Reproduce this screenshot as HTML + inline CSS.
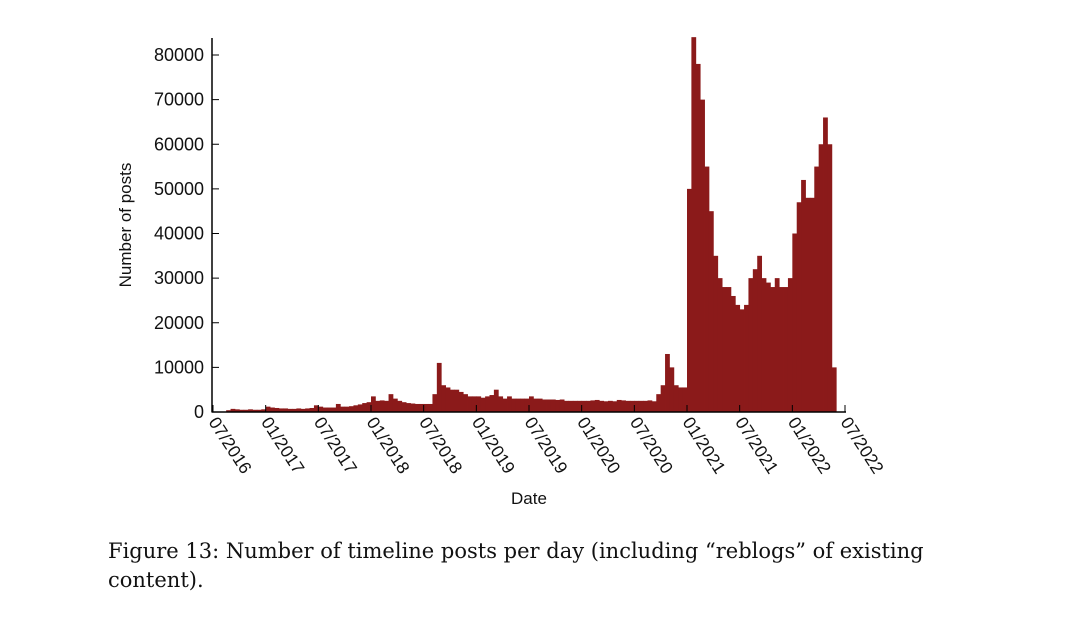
<!DOCTYPE html>
<html><head><meta charset="utf-8"><style>
body{margin:0;background:#fff;}
svg{display:block;}
text{font-family:"Liberation Sans",sans-serif;fill:#111;}
.cap{font-family:"DejaVu Serif","Liberation Serif",serif;font-size:21px;}
</style></head><body>
<svg id="chart" width="1090" height="640" viewBox="0 0 1090 640">
<g id="bars"></g>
<g id="axes"></g>
<text x="529" y="504" text-anchor="middle" font-size="17">Date</text>
<text transform="translate(131,225) rotate(-90)" text-anchor="middle" font-size="17">Number of posts</text>
<text class="cap" x="108" y="558">Figure 13: Number of timeline posts per day (including “reblogs” of existing</text>
<text class="cap" x="108" y="587">content).</text>
</svg>
<script>
const values = [
0,0,0,400,700,600,500,500,600,500,500,600,
1200,1000,900,800,800,700,700,800,700,800,900,1500,
1200,1000,1000,1000,1800,1200,1200,1300,1500,1700,2000,2200,
3500,2500,2600,2500,4000,3000,2500,2200,2000,1900,1800,1800,
1800,1800,4000,11000,6000,5500,5000,5000,4500,4000,3500,3500,
3500,3200,3500,3800,5000,3500,3000,3500,3000,3000,3000,3000,
3500,3000,3000,2800,2800,2800,2700,2800,2500,2500,2500,2500,
2500,2500,2600,2700,2500,2400,2500,2400,2700,2600,2500,2500,
2500,2500,2500,2600,2400,4000,6000,13000,10000,6000,5500,5500,
50000,84000,78000,70000,55000,45000,35000,30000,28000,28000,26000,24000,
23000,24000,30000,32000,35000,30000,29000,28000,30000,28000,28000,30000,
40000,47000,52000,48000,48000,55000,60000,66000,60000,10000,0,0
];
const xTickLabels = ["07/2016","01/2017","07/2017","01/2018","07/2018","01/2019","07/2019","01/2020","07/2020","01/2021","07/2021","01/2022","07/2022"];
const yTicks = [0,10000,20000,30000,40000,50000,60000,70000,80000];

const NS="http://www.w3.org/2000/svg";
const X0=213, X1=845, Y0=412, YTOP=55, YMAXV=80000;
const n=values.length;
const xScale=i=>X0+i*(X1-X0)/n;
const yScale=v=>Y0-(v/YMAXV)*(Y0-YTOP);
function mk(tag,attrs){const e=document.createElementNS(NS,tag);for(const k in attrs)e.setAttribute(k,attrs[k]);return e;}
const bars=document.getElementById('bars');
values.forEach((v,i)=>{
  if(v<=0)return;
  const r=mk('rect',{x:xScale(i),y:yScale(v),width:(X1-X0)/n+0.4,height:Y0-yScale(v),fill:'#8b1a1a'});
  
  
  bars.appendChild(r);
});
const axes=document.getElementById('axes');
const yAxis=mk('line',{x1:212,y1:38,x2:212,y2:412.5,stroke:'#000','stroke-width':1.5});


axes.appendChild(yAxis);
const xAxis=mk('line',{x1:212,y1:412,x2:846,y2:412,stroke:'#000','stroke-width':1.5});


axes.appendChild(xAxis);
yTicks.forEach(t=>{
  const y=yScale(t);
  axes.appendChild(mk('line',{x1:212,y1:y,x2:219,y2:y,stroke:'#000','stroke-width':1}));
  const tx=mk('text',{x:204,y:y+6,'text-anchor':'end','font-size':18});
  tx.textContent=t;
  
  
  axes.appendChild(tx);
});
xTickLabels.forEach((lab,k)=>{
  const x=X0+k*(X1-X0)/(xTickLabels.length-1);
  axes.appendChild(mk('line',{x1:x,y1:412,x2:x,y2:405,stroke:'#000','stroke-width':1}));
  const tx=mk('text',{transform:`translate(${x-5},${422}) rotate(57)`,'font-size':17.5});
  tx.textContent=lab;
  
  
  axes.appendChild(tx);
});
</script>
</body></html>
